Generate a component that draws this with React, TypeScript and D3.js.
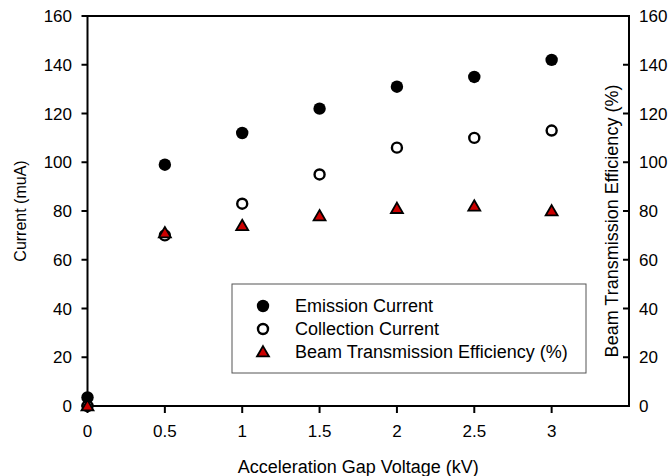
import React from "react";
import * as d3 from "d3";

const voltages = [0, 0.5, 1, 1.5, 2, 2.5, 3];
const emissionCurrent = [3.5, 99, 112, 122, 131, 135, 142];
const collectionCurrent = [0, 70, 83, 95, 106, 110, 113];
const transmissionEff = [0, 71, 74, 78, 81, 82, 80];
const xTicks = [0, 0.5, 1, 1.5, 2, 2.5, 3];
const yTicks = [0, 20, 40, 60, 80, 100, 120, 140, 160];
const legendLabels = ["Emission Current", "Collection Current", "Beam Transmission Efficiency (%)"];

const W = 668;
const H = 476;
const FONT = "'Liberation Sans', Arial, sans-serif";

export default function App() {
  const x = d3.scaleLinear().domain([0, 3.5]).range([87.5, 629]);
  const y = d3.scaleLinear().domain([0, 160]).range([406, 16]);
  const yR = d3.scaleLinear().domain([0, 160]).range([406, 16]);
  const [x0, x1] = x.range();
  const [yb, yt] = y.range();
  const tri = d3.symbol().type(d3.symbolTriangle).size(62)();

  return (
    <svg width={W} height={H} style={{ position: "absolute", left: 0, top: 0, background: "#fff" }} fontFamily={FONT}>
      <rect x={0} y={0} width={W} height={H} fill="#fff" />
      {/* frame */}
      <line x1={x0} x2={x1} y1={yt} y2={yt} stroke="#000" strokeWidth={2} />
      <line x1={x0} x2={x1} y1={yb} y2={yb} stroke="#000" strokeWidth={2} />
      <line x1={x0} x2={x0} y1={yt - 1} y2={yb + 1} stroke="#000" strokeWidth={2} />
      <line x1={x1} x2={x1} y1={yt - 1} y2={yb + 1} stroke="#000" strokeWidth={2} />

      {/* left ticks */}
      {yTicks.map((t) => (
        <g key={"l" + t}>
          <line x1={x0 - 6} x2={x0} y1={y(t)} y2={y(t)} stroke="#000" strokeWidth={2} />
          <text x={72} y={y(t) + 6} textAnchor="end" fontSize={17}>{t}</text>
        </g>
      ))}
      {/* right ticks */}
      {yTicks.map((t) => (
        <g key={"r" + t}>
          <line x1={x1 - 6} x2={x1} y1={yR(t)} y2={yR(t)} stroke="#000" strokeWidth={2} />
          <text x={639} y={yR(t) + 6} textAnchor="start" fontSize={17}>{t}</text>
        </g>
      ))}
      {/* bottom ticks */}
      {xTicks.map((t) => (
        <g key={"b" + t}>
          <line x1={x(t)} x2={x(t)} y1={yb} y2={yb + 7} stroke="#000" strokeWidth={2} />
          <text x={x(t)} y={437} textAnchor="middle" fontSize={17}>{t}</text>
        </g>
      ))}

      {/* axis titles */}
      <text x={(x0 + x1) / 2} y={473} textAnchor="middle" fontSize={18}>Acceleration Gap Voltage (kV)</text>
      <text transform={`translate(26,${(yt + yb) / 2}) rotate(-90)`} textAnchor="middle" fontSize={16}>Current (muA)</text>
      <text transform={`translate(618,${221}) rotate(-90)`} textAnchor="middle" fontSize={18}>Beam Transmission Efficiency (%)</text>

      {/* data */}
      {voltages.map((v, i) => (
        <circle key={"e" + i} cx={x(v)} cy={y(emissionCurrent[i])} r={6.2} fill="#000" />
      ))}
      {voltages.map((v, i) => (
        <circle key={"c" + i} cx={x(v)} cy={y(collectionCurrent[i])} r={5} fill="#fff" stroke="#000" strokeWidth={2.4} />
      ))}
      {voltages.map((v, i) => (
        <path key={"t" + i} d={tri || ""} transform={`translate(${x(v)},${yR(transmissionEff[i]) + 1})`} fill="#cc0000" stroke="#000" strokeWidth={1.8} />
      ))}

      {/* legend */}
      <rect x={232} y={284} width={354} height={89} fill="#fff" stroke="#555" strokeWidth={1} />
      <circle cx={263} cy={306} r={6.2} fill="#000" />
      <circle cx={263} cy={329} r={5} fill="#fff" stroke="#000" strokeWidth={2.4} />
      <path d={tri || ""} transform={`translate(263,${353})`} fill="#cc0000" stroke="#000" strokeWidth={1.8} />
      {legendLabels.map((l, i) => (
        <text key={l} x={295} y={312 + i * 23} fontSize={18}>{l}</text>
      ))}
    </svg>
  );
}
